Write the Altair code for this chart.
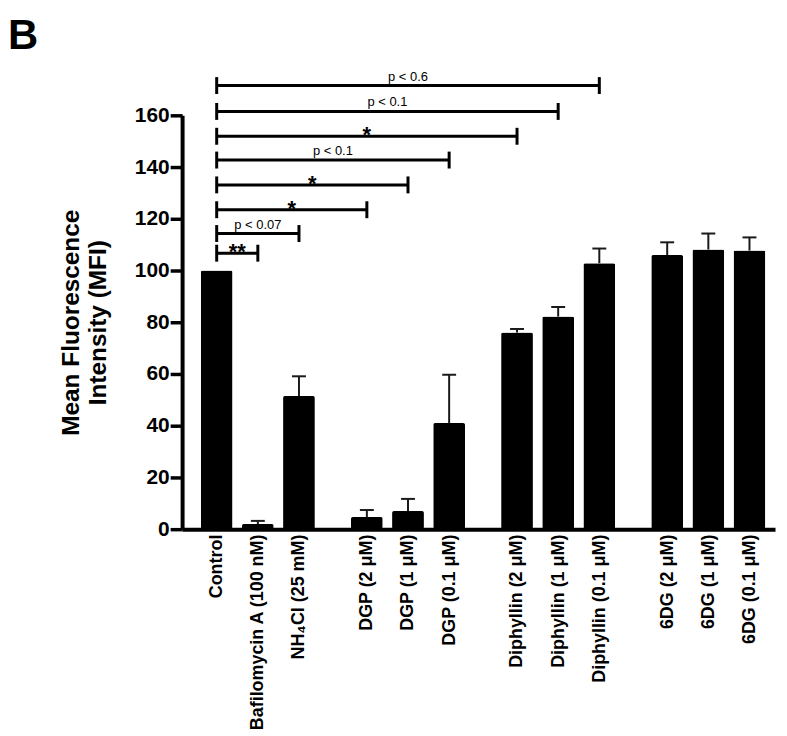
import altair as alt
import pandas as pd

# ---- data ----
panel_letter = ["B"]
categories = [
    "Control", "Bafilomycin A (100 nM)", "NH₄Cl (25 mM)",
    "DGP (2 μM)", "DGP (1 μM)", "DGP (0.1 μM)",
    "Diphyllin (2 μM)", "Diphyllin (1 μM)", "Diphyllin (0.1 μM)",
    "6DG (2 μM)", "6DG (1 μM)", "6DG (0.1 μM)",
]
groups = [0, 0, 0, 1, 1, 1, 2, 2, 2, 3, 3, 3]
mfi = [100.0, 2.0, 51.5, 4.7, 7.0, 41.0, 76.0, 82.2, 102.8, 106.0, 108.1, 107.7]
sem = [0.0, 1.2, 7.6, 2.7, 4.7, 18.7, 1.4, 3.7, 5.7, 4.9, 6.2, 5.1]

bracket_targets = [
    "Bafilomycin A (100 nM)", "NH₄Cl (25 mM)", "DGP (2 μM)", "DGP (1 μM)",
    "DGP (0.1 μM)", "Diphyllin (2 μM)", "Diphyllin (1 μM)", "Diphyllin (0.1 μM)",
]
bracket_labels = ["**", "p < 0.07", "*", "*", "p < 0.1", "*", "p < 0.1", "p < 0.6"]
bracket_heights = [106.7, 114.3, 123.5, 133.1, 142.7, 151.9, 161.5, 171.5]

y_ticks = [0, 20, 40, 60, 80, 100, 120, 140, 160]

# ---- layout helpers ----
GROUP_GAP = 0.65
pos = [round(i + g * GROUP_GAP, 2) for i, g in enumerate(groups)]
pos_of = dict(zip(categories, pos))

bars_df = pd.DataFrame({"cat": categories, "pos": pos, "mfi": mfi, "sem": sem})
bars_df["top"] = bars_df["mfi"] + bars_df["sem"]
err_df = bars_df[bars_df["sem"] > 0]

br_rows = []
end_rows = []
for tgt, lab, h in zip(bracket_targets, bracket_labels, bracket_heights):
    x1 = pos_of[categories[0]]
    x2 = pos_of[tgt]
    kind = "star" if lab.startswith("*") else "p"
    br_rows.append({"x1": x1, "x2": x2, "y": h, "mid": (x1 + x2) / 2, "label": lab, "kind": kind})
    end_rows.append({"x": x1, "y": h})
    end_rows.append({"x": x2, "y": h})
br_df = pd.DataFrame(br_rows)
end_df = pd.DataFrame(end_rows)

FONT = "Liberation Sans"

label_expr = (
    "[" + ",".join("'" + c + "'" for c in categories) + "]"
    "[indexof([" + ",".join(str(p) for p in pos) + "], datum.value)]"
)

xscale = alt.Scale(domain=[-0.72, 13.45], nice=False, zero=False)
yscale = alt.Scale(domain=[0, 160], nice=False)

xaxis = alt.Axis(
    values=pos, labelExpr=label_expr, labelAngle=270, labelFontSize=18,
    labelFontWeight="bold", labelFont=FONT, labelColor="black", labelLimit=0,
    labelPadding=5, ticks=False, tickSize=0, domainWidth=4, domainColor="black",
    labelOverlap=False, labelFlush=False, labelBound=False, title=None, grid=False,
)
yaxis = alt.Axis(
    values=y_ticks, labelFontSize=21, labelFontWeight="bold", labelFont=FONT,
    labelColor="black", labelPadding=1, tickSize=12, tickWidth=3.5,
    tickColor="black", domainWidth=4, domainColor="black", grid=False,
    title=["Mean Fluorescence", "Intensity (MFI)"], titleFontSize=24.5,
    titleLineHeight=27, titleFontWeight="bold", titleFont=FONT,
    titleColor="black", titlePadding=24,
)


def X(field):
    return alt.X(field, type="quantitative", scale=xscale, axis=xaxis)


def Y(field):
    return alt.Y(field, type="quantitative", scale=yscale, axis=yaxis)


bars = alt.Chart(bars_df).mark_bar(color="black", size=32, cornerRadius=2).encode(
    x=X("pos"), y=Y("mfi")
)
err_rule = alt.Chart(err_df).mark_rule(color="#1a1a1a", strokeWidth=2).encode(
    x=X("pos"), y=Y("mfi"), y2="top:Q"
)
err_cap = alt.Chart(err_df).mark_tick(
    orient="horizontal", size=14, thickness=2, color="#1a1a1a", opacity=1
).encode(x=X("pos"), y=Y("top"))

br_line = alt.Chart(br_df).mark_rule(color="black", strokeWidth=3).encode(
    x=X("x1"), x2="x2:Q", y=Y("y")
)
br_ends = alt.Chart(end_df).mark_tick(
    orient="vertical", size=17, thickness=3, color="black", opacity=1
).encode(x=X("x"), y=Y("y"))
br_p = alt.Chart(br_df).transform_filter("datum.kind == 'p'").mark_text(
    font=FONT, fontSize=13, color="black", baseline="alphabetic", dy=-5
).encode(x=X("mid"), y=Y("y"), text="label:N")
br_star = alt.Chart(br_df).transform_filter("datum.kind == 'star'").mark_text(
    font=FONT, fontSize=22, fontWeight="bold", color="black", baseline="alphabetic", dy=6
).encode(x=X("mid"), y=Y("y"), text="label:N")

letter = alt.Chart(pd.DataFrame({"panel": panel_letter})).mark_text(
    font=FONT, fontSize=42, fontWeight="bold", color="black",
    align="left", baseline="alphabetic",
).encode(text="panel:N", x=alt.value(-175), y=alt.value(-67))

chart = (
    alt.layer(bars, err_rule, err_cap, br_line, br_ends, br_p, br_star, letter)
    .properties(
        width=596,
        height=416,
        autosize=alt.AutoSizeParams(type="none"),
        padding={"left": 175, "top": 106, "right": 4, "bottom": 200},
    )
    .configure_view(stroke=None)
    .configure_axis(grid=False)
)

chart.save("out.html", embed_options={"renderer": "svg", "actions": False})
